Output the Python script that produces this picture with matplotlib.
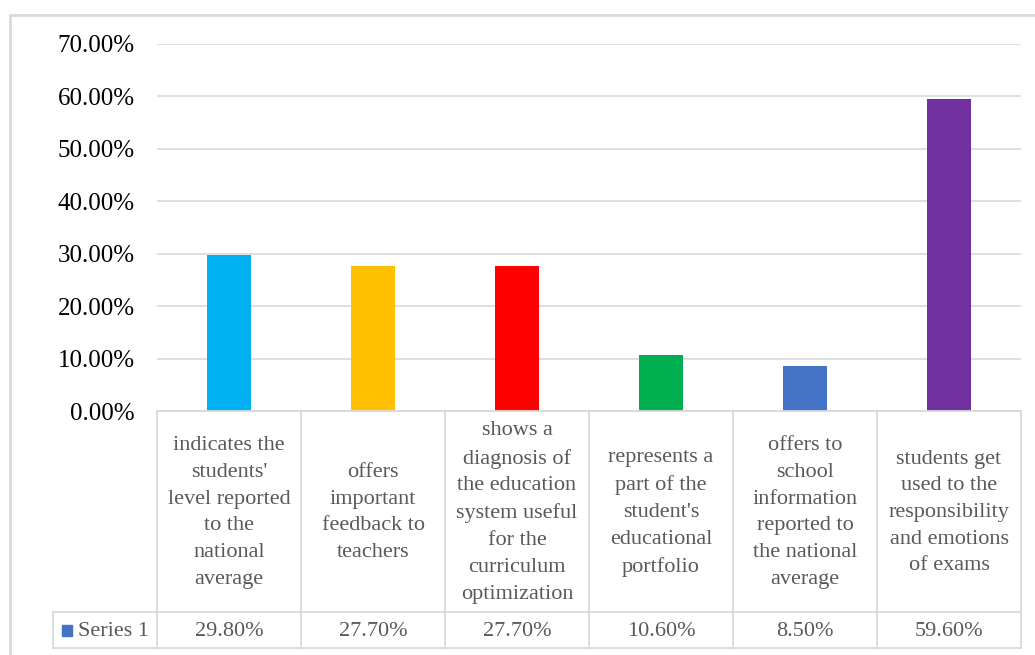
import matplotlib.pyplot as plt
from matplotlib.patches import Rectangle
from matplotlib.lines import Line2D

# ----------------------------------------------------------------------
# data
categories = [
    "indicates the\nstudents'\nlevel reported\nto the\nnational\naverage",
    "offers\nimportant\nfeedback to\nteachers",
    "shows a\ndiagnosis of\nthe education\nsystem useful\nfor the\ncurriculum\noptimization",
    "represents a\npart of the\nstudent's\neducational\nportfolio",
    "offers to\nschool\ninformation\nreported to\nthe national\naverage",
    "students get\nused to the\nresponsibility\nand emotions\nof exams",
]
values = [29.8, 27.7, 27.7, 10.6, 8.5, 59.6]
series_name = "Series 1"
bar_colors = ["#00B0F0", "#FFC000", "#FF0000", "#00B050", "#4472C4", "#7030A0"]
y_ticks = [0, 10, 20, 30, 40, 50, 60, 70]

# ----------------------------------------------------------------------
W, H = 1035, 655
plt.rcParams['font.family'] = ['Liberation Serif', 'DejaVu Serif']

fig = plt.figure(figsize=(W / 100, H / 100), dpi=100)


def fx(x):
    return x / W


def fy(y):
    return 1 - y / H


# plot area (pixels)
left, right, top, bottom = 157, 1021, 44, 411
ax = fig.add_axes([fx(left), fy(bottom), fx(right - left), fy(top) - fy(bottom)])

x = list(range(len(values)))
ax.bar(x, values, width=0.31, color=bar_colors, zorder=3)
ax.set_xlim(-0.5, len(values) - 0.5)
ax.set_ylim(0, 70)
ax.set_yticks(y_ticks)
ax.set_yticklabels([f"{t:.2f}%" for t in y_ticks], fontsize=18, color="#000000")
ax.set_xticks([])
ax.tick_params(axis="y", length=0, pad=16)
ax.grid(axis="y", color="#d9d9d9", linewidth=1.2, zorder=0)
for s in ax.spines.values():
    s.set_visible(False)

# ----------------------------------------------------------------------
# data table under the chart
grid_c = "#d9d9d9"
txt_c = "#595959"
row1_bot, row2_bot = 612, 648
table_left = 53
col_w = (right - left) / len(values)


def hline(y, x0, x1):
    fig.add_artist(Line2D([fx(x0), fx(x1)], [fy(y), fy(y)], color=grid_c, lw=1.3))


def vline(x0, y0, y1):
    fig.add_artist(Line2D([fx(x0), fx(x0)], [fy(y0), fy(y1)], color=grid_c, lw=1.3))


hline(bottom, left, right)
hline(row1_bot, table_left, right)
hline(row2_bot, table_left, right)
for i in range(len(values) + 1):
    vline(left + i * col_w, bottom, row2_bot)
vline(table_left, row1_bot, row2_bot)

row2_mid = (row1_bot + row2_bot) / 2 + 2
for i, (cat, v) in enumerate(zip(categories, values)):
    cx = left + (i + 0.5) * col_w
    fig.text(fx(cx), fy((bottom + row1_bot) / 2 + 1), cat, ha="center", va="center",
             fontsize=16, color=txt_c, linespacing=1.55)
    fig.text(fx(cx), fy(row2_mid), f"{v:.2f}%", ha="center",
             va="center", fontsize=16, color=txt_c)

# legend key in table
fig.add_artist(Rectangle((fx(62), fy(636)), fx(10), fy(625) - fy(636),
                         color="#4472C4", transform=fig.transFigure))
fig.text(fx(78), fy(row2_mid), series_name, ha="left",
         va="center", fontsize=16, color=txt_c)

# outer chart border
fig.add_artist(Rectangle((fx(10), fy(670)), fx(1040), fy(15) - fy(670), fill=False,
                         edgecolor="#d9d9d9", lw=2, transform=fig.transFigure))

plt.savefig("out.png", dpi=100)
